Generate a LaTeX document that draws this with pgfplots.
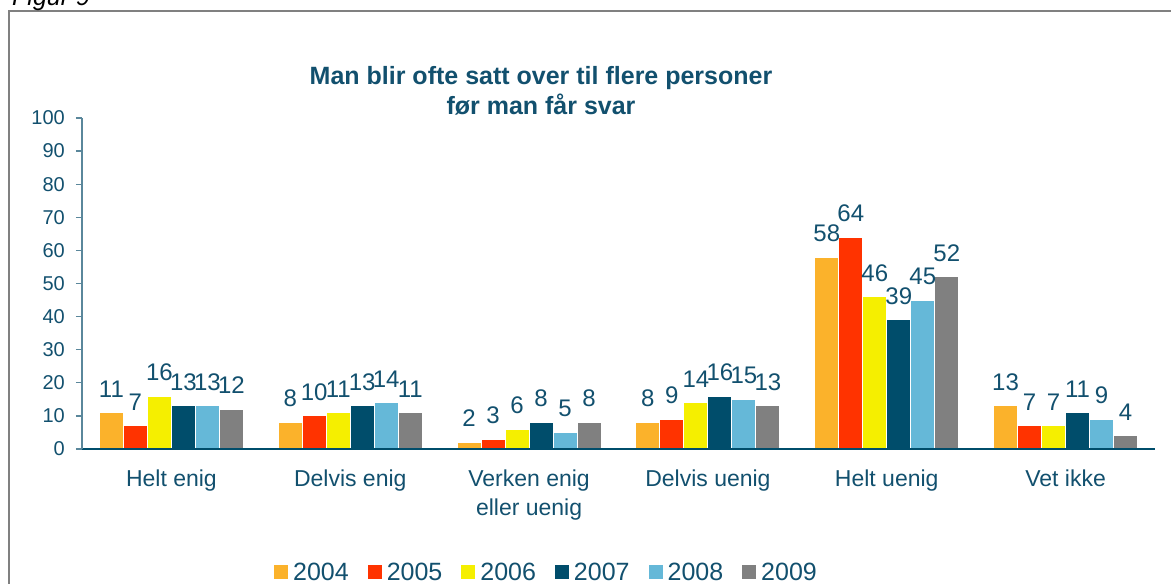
\documentclass[border=0pt]{standalone}
\usepackage{pgfplots}
\pgfplotsset{compat=1.18}
\usepackage{fontspec}
\setmainfont{Liberation Sans}
\definecolor{c04}{RGB}{251,178,43}
\definecolor{c05}{RGB}{255,51,0}
\definecolor{c06}{RGB}{245,239,0}
\definecolor{c07}{RGB}{0,77,107}
\definecolor{c08}{RGB}{101,184,216}
\definecolor{c09}{RGB}{128,128,128}
\definecolor{tealtext}{RGB}{18,80,110}
\definecolor{yaxcol}{RGB}{90,135,155}
\definecolor{framegray}{RGB}{128,128,128}
\begin{document}
\begin{tikzpicture}[x=1pt,y=1pt]
\useasboundingbox (0,0) rectangle (1171,584);
\draw[line width=2pt, color=framegray] (9,-30) rectangle (1220,573);
\node[anchor=base west, inner sep=0pt, font=\fontsize{25}{30}\selectfont\itshape] at (12,578) {Figur 9};
\begin{axis}[
  at={(82pt,135pt)}, anchor=south west,
  scale only axis, width=1073pt, height=331pt,
  clip=false, axis on top,
  ybar=0pt, bar width=24pt,
  xmin=-0.5, xmax=5.5, ymin=0, ymax=100,
  xtick={0,1,2,3,4,5},
  xticklabels={Helt enig, Delvis enig, {Verken enig\\eller uenig}, Delvis uenig, Helt uenig, Vet ikke},
  ytick={0,10,...,100},
  axis x line=bottom, axis y line=left,
  x axis line style={-, draw=c07, line width=1.6pt},
  y axis line style={-, draw=yaxcol, line width=1.2pt},
  x tick style={draw=none},
  y tick style={draw=yaxcol, line width=1.2pt},
  tick align=outside, major tick length=6pt,
  /pgf/number format/assume math mode=true,
  yticklabel style={font=\fontsize{20}{24}\selectfont, text=tealtext, inner sep=0pt, xshift=-11pt},
  xticklabel style={font=\fontsize{23}{29}\selectfont, text=tealtext, align=center, inner sep=0pt, yshift=-15pt},
  nodes near coords,
  every node near coord/.append style={font=\fontsize{24}{28}\selectfont, text=tealtext, inner sep=0pt, yshift=15pt, anchor=south},
  title={Man blir ofte satt over til flere personer\\før man får svar},
  title style={font=\fontsize{25}{30}\selectfont\bfseries, text=tealtext, align=center, anchor=north, inner sep=0pt, at={(axis description cs:0.4278,1.139)}},
  legend columns=6,
  legend style={draw=none, fill=none, font=\fontsize{25}{30}\selectfont, text=tealtext,
    at={(axis description cs:0.4343,-0.372)}, anchor=center,
    /tikz/every even column/.append style={column sep=14pt},
    nodes={inner xsep=5pt, inner ysep=2pt}},
  legend image code/.code={\fill[#1, draw=none] (0pt,-7pt) rectangle (14pt,7pt);},
]
\addplot[fill=c04, draw=white, line width=1pt] coordinates {(0,11) (1,8) (2,2) (3,8) (4,58) (5,13)};
\addplot[fill=c05, draw=white, line width=1pt] coordinates {(0,7) (1,10) (2,3) (3,9) (4,64) (5,7)};
\addplot[fill=c06, draw=white, line width=1pt] coordinates {(0,16) (1,11) (2,6) (3,14) (4,46) (5,7)};
\addplot[fill=c07, draw=white, line width=1pt] coordinates {(0,13) (1,13) (2,8) (3,16) (4,39) (5,11)};
\addplot[fill=c08, draw=white, line width=1pt] coordinates {(0,13) (1,14) (2,5) (3,15) (4,45) (5,9)};
\addplot[fill=c09, draw=white, line width=1pt] coordinates {(0,12) (1,11) (2,8) (3,13) (4,52) (5,4)};
\legend{2004,2005,2006,2007,2008,2009}
\end{axis}
\end{tikzpicture}
\end{document}
